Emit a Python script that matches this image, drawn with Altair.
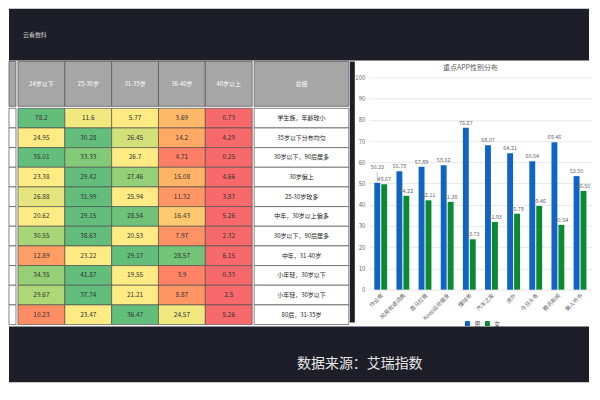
import altair as alt
import pandas as pd

# ---------------- data ----------------
age_groups = ["24岁以下", "25-30岁", "31-35岁", "36-40岁", "40岁以上"]
row_ids = list(range(1, 12))
v_24 = [78.2, 24.95, 35.01, 23.38, 26.88, 20.62, 30.55, 12.89, 34.35, 29.67, 10.23]
v_25_30 = [11.6, 30.28, 33.33, 29.42, 31.99, 29.15, 38.63, 23.22, 41.87, 37.74, 23.47]
v_31_35 = [5.77, 26.45, 26.7, 27.46, 25.94, 28.54, 20.53, 29.17, 19.55, 21.21, 36.47]
v_36_40 = [3.69, 14.2, 4.71, 15.08, 11.32, 16.43, 7.97, 28.57, 3.9, 8.87, 24.57]
v_40 = [0.73, 4.29, 0.25, 4.66, 3.87, 5.26, 2.32, 6.15, 0.33, 2.5, 5.26]
summaries = [
    "学生族，年龄较小", "35岁以下分布均匀", "30岁以下，90后居多", "30岁偏上",
    "25-30岁较多", "中年，30岁以上偏多", "30岁以下，90后居多", "中年，31-40岁",
    "小年轻，30岁以下", "小年轻，30岁以下", "80后，31-35岁",
]
summary_header = "总结"

apps = ["作业帮", "网易有道词典", "喜马拉雅", "Keep运动健身", "懂球帝",
        "汽车之家", "虎扑", "今日头条", "腾讯新闻", "懒人听书"]
male = [50.33, 55.78, 57.89, 58.62, 76.27, 68.07, 64.21, 60.54, 69.46, 53.5]
female = [49.67, 44.22, 42.11, 41.38, 23.73, 31.93, 35.79, 39.46, 30.54, 46.5]
genders = ["男", "女"]
y_ticks = [0, 10, 20, 30, 40, 50, 60, 70, 80, 90, 100]
bar_title = "重点APP性别分布"
source_text = "数据来源：艾瑞指数"
logo_text = "云看数科"

# ---------------- styles ----------------
DARK = "#1d1e27"
GRID = "#505050"
HEAD = "#a6a6a6"
RED, YEL, GRN = "#f8696b", "#ffeb84", "#63be7b"
BLUE, GREEN = "#0f64c6", "#0b8a32"
FONT = "Noto Sans CJK SC"
SW = 0.7

cols = [v_24, v_25_30, v_31_35, v_36_40, v_40]
table_df = pd.DataFrame([
    {"row": r, "age": age_groups[j], "value": cols[j][i]}
    for i, r in enumerate(row_ids) for j in range(len(age_groups))
])
sum_df = pd.DataFrame({"row": row_ids, "summary": summaries})
head_df = pd.DataFrame({"age": age_groups})
blank_rows = pd.DataFrame({"row": row_ids})
one = pd.DataFrame({"t": [logo_text]})
src = pd.DataFrame({"t": [source_text]})
sh = pd.DataFrame({"t": [summary_header]})
ttl = pd.DataFrame({"t": [bar_title]})

HEAD_H = 45
BODY_H = 217
COL0_W = 7
HEAT_W = 235
SUM_W = 95

# header row
h0 = alt.Chart(one).mark_rect(fill=HEAD, stroke=GRID, strokeWidth=SW).encode(
    x=alt.value(0), x2=alt.value(COL0_W)
).properties(width=COL0_W, height=HEAD_H)
h1_base = alt.Chart(head_df).encode(x=alt.X("age:N", sort=age_groups, axis=None))
h1 = alt.layer(
    h1_base.mark_rect(fill=HEAD, stroke=GRID, strokeWidth=SW),
    h1_base.mark_text(color="white", fontSize=6).encode(text="age:N"),
).properties(width=HEAT_W, height=HEAD_H)
h2 = alt.layer(
    alt.Chart(sh).mark_rect(fill=HEAD, stroke=GRID, strokeWidth=SW).encode(x=alt.value(0), x2=alt.value(SUM_W)),
    alt.Chart(sh).mark_text(color="white", fontSize=6).encode(text="t:N"),
).properties(width=SUM_W, height=HEAD_H)
header = alt.hconcat(h0, h1, h2, spacing=0)

# body
b0 = alt.Chart(blank_rows).mark_rect(fill="white", stroke=GRID, strokeWidth=SW).encode(
    y=alt.Y("row:O", sort=row_ids, axis=None)
).properties(width=COL0_W, height=BODY_H)

heat_base = alt.Chart(table_df).transform_joinaggregate(
    vmin="min(value)", vmax="max(value)", vmed="median(value)", groupby=["row"]
).transform_calculate(
    t="datum.value >= datum.vmed ? (datum.value - datum.vmed) / (datum.vmax - datum.vmed) : (datum.value - datum.vmed) / (datum.vmed - datum.vmin)"
).encode(
    x=alt.X("age:N", sort=age_groups, axis=None),
    y=alt.Y("row:O", sort=row_ids, axis=None),
)
b1 = alt.layer(
    heat_base.mark_rect(stroke=GRID, strokeWidth=SW).encode(
        color=alt.Color("t:Q", scale=alt.Scale(domain=[-1, 0, 1], range=[RED, YEL, GRN]), legend=None)
    ),
    heat_base.mark_text(fontSize=6.5, color="#333333").encode(text=alt.Text("value:Q", format="~g")),
).properties(width=HEAT_W, height=BODY_H)

sum_base = alt.Chart(sum_df).encode(y=alt.Y("row:O", sort=row_ids, axis=None))
b2 = alt.layer(
    sum_base.mark_rect(fill="white", stroke=GRID, strokeWidth=SW),
    sum_base.mark_text(fontSize=6, color="#222222").encode(text="summary:N"),
).properties(width=SUM_W, height=BODY_H)
body = alt.hconcat(b0, b1, b2, spacing=0)

table = alt.vconcat(header, body, spacing=0)

# spacer
spacer = alt.Chart(one).mark_text(text=" ").encode(x=alt.value(0)).properties(
    width=5, height=HEAD_H + BODY_H, view=alt.ViewBackground(fill=DARK, strokeWidth=0)
)

# bar chart
BAR_H = 229
YMAX = 107.5
bars_df = pd.DataFrame({
    "app": apps * 2,
    "gender": [genders[0]] * len(apps) + [genders[1]] * len(apps),
    "pct": male + female,
})
xenc = alt.X("app:N", sort=apps, title=None,
             scale=alt.Scale(paddingInner=0.42, paddingOuter=0.25),
             axis=alt.Axis(labelAngle=-45, labelFontSize=5.5, labelColor="#666666",
                           domain=False, ticks=False, labelPadding=3))
xoff = alt.XOffset("gender:N", sort=genders, scale=alt.Scale(paddingInner=0.15))
yscale = alt.Scale(domain=[0, YMAX])
yaxis = alt.Axis(values=y_ticks, labelFontSize=6, labelColor="#666666", labelOverlap=False,
                 domain=False, ticks=False, gridColor="#e8e8e8", labelPadding=4)
bbase = alt.Chart(bars_df).transform_calculate(
    lift="datum.gender == '男' && abs(datum.pct - (100 - datum.pct)) < 4 ? 1 : 0"
).transform_calculate(
    ly="datum.pct + datum.lift * 5"
).encode(x=xenc, xOffset=xoff)

bar_marks = bbase.mark_bar().encode(
    y=alt.Y("pct:Q", title=None, scale=yscale, axis=yaxis),
    color=alt.Color("gender:N", sort=genders, scale=alt.Scale(domain=genders, range=[BLUE, GREEN]),
                    legend=alt.Legend(orient="none", legendX=96, legendY=BAR_H + 31, direction="horizontal",
                                      title=None, symbolType="square", symbolSize=25,
                                      labelFontSize=6, labelColor="#555555", columnPadding=3,
                                      symbolStrokeWidth=0, padding=0)),
)
leader = bbase.transform_filter("datum.lift == 1").mark_rule(color="#999999", strokeWidth=0.6).encode(
    y=alt.Y("pct:Q", title=None, scale=yscale, axis=yaxis), y2="ly:Q"
)
bar_text = bbase.mark_text(dy=-5, fontSize=5.5, color="#666666").encode(
    y=alt.Y("ly:Q", title=None, scale=yscale, axis=yaxis), text=alt.Text("pct:Q", format=".2f")
)
title_mark = alt.Chart(ttl).mark_text(fontSize=7, color="#595959").encode(
    x=alt.value(102), y=alt.value(7), text="t:N"
)
bar_chart = alt.layer(bar_marks, leader, bar_text, title_mark).properties(width=224, height=BAR_H)

main = alt.hconcat(table, spacer, bar_chart, spacing=0)

TOTAL_W = 582
top = alt.Chart(one).mark_text(color="#d0d0d0", fontSize=6, align="left").encode(
    x=alt.value(14), y=alt.value(26), text="t:N"
).properties(width=TOTAL_W, height=52, view=alt.ViewBackground(fill=DARK, strokeWidth=0))

footer = alt.Chart(src).mark_text(color="#e6e6e6", fontSize=14, align="center").encode(
    x=alt.value(352), y=alt.value(38), text="t:N"
).properties(width=TOTAL_W, height=56, view=alt.ViewBackground(fill=DARK, strokeWidth=0))

chart = alt.vconcat(top, main, footer, spacing=0).properties(
    padding=0, background="white"
).configure(font=FONT).configure_view(strokeWidth=0).configure_concat(spacing=0)

chart.save("out.html", embed_options={"renderer": "svg", "actions": False})
